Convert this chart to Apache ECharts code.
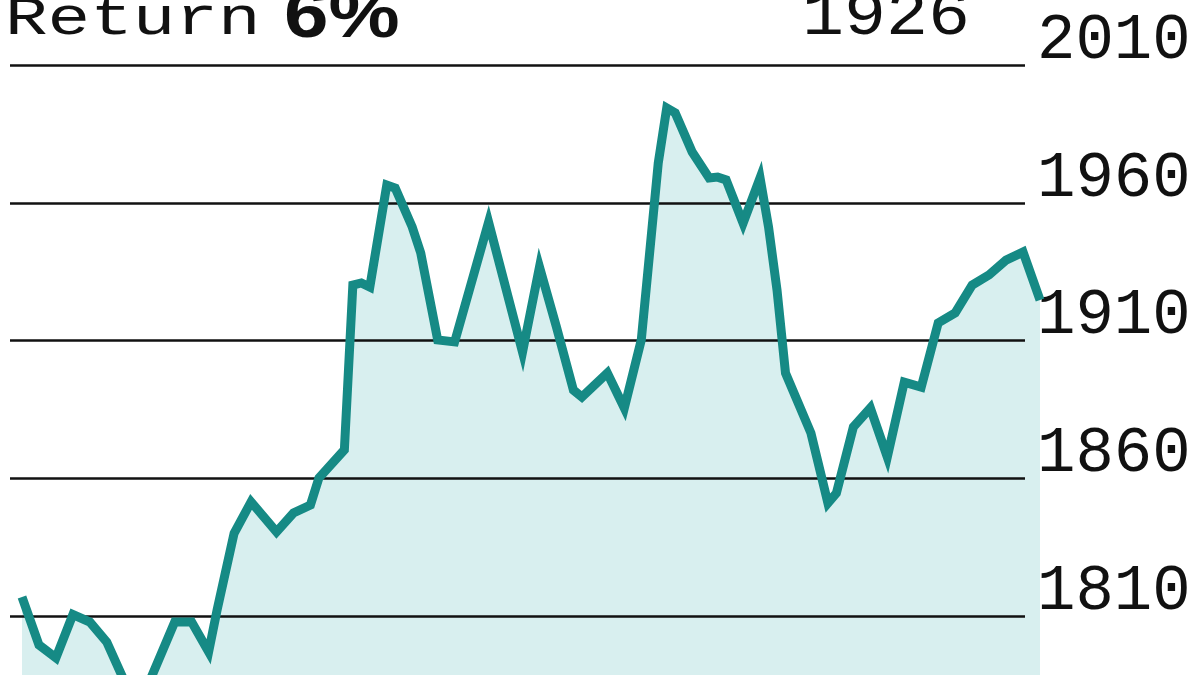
<!DOCTYPE html>
<html>
<head>
<meta charset="utf-8">
<script src="https://cdn.jsdelivr.net/npm/echarts@6/dist/echarts.min.js"></script>
<style>
  html, body { margin: 0; padding: 0; background: #ffffff; }
  #chart { width: 1200px; height: 675px; }
</style>
</head>
<body>
<div id="chart"></div>
<script>
// Data (x = point index, y = level)
const pointIndex = [0,2,4,6,8,10,12,13,15,18,20,22,23,25,27,30,32,34,35,38,39,40,41,43,44,46,47,49,51,55,59,61,63,65,66,69,71,73,75,76,77,79,81,82,83,85,87,88,89,90,93,95,96,98,100,102,104,106,108,110,112,114,116,118,120];
const levels = [1816.9,1799.5,1794.8,1810.5,1807.8,1800.5,1786.8,1780,1786,1807.8,1807.8,1797,1812.2,1840,1851.4,1840.5,1847.4,1850.3,1860.1,1870.3,1930.1,1930.9,1929.4,1966.4,1965.3,1951.2,1941.8,1910.2,1909.5,1953.0,1905.8,1936.7,1914.9,1892.0,1889.5,1898.2,1885.5,1910.2,1974.4,1994.4,1992.6,1978.4,1969.0,1969.3,1968.3,1952.6,1969.0,1951.2,1928.3,1898.2,1876.4,1851.0,1854.6,1878.6,1885.5,1867.7,1894.9,1893.1,1916.4,1920.0,1930.1,1933.8,1939.2,1942.1,1924.7];
const yTicks = [1810, 1860, 1910, 1960, 2010];
const titleLabel = 'Return';
const titleValue = '6%';
const yearLabel = '1926';

const seriesData = pointIndex.map((x, i) => [x, levels[i]]);

const yMin = 1760, yMax = 2010, yStep = 50;
const mono = '"Liberation Mono", "DejaVu Sans Mono", monospace';
const sans = '"Liberation Sans", Arial, sans-serif';

const chart = echarts.init(document.getElementById('chart'), null, { renderer: 'canvas' });
chart.setOption({
  animation: false,
  backgroundColor: '#ffffff',
  graphic: [
    {
      type: 'text', x: 5, y: 34, scaleY: 0.76, silent: true,
      style: { text: titleLabel, fontFamily: mono, fontSize: 71, fontWeight: 'normal', fill: '#111111', verticalAlign: 'bottom', lineHeight: 38 }
    },
    {
      type: 'text', x: 284, y: 42, scaleY: 0.85, silent: true,
      style: { text: titleValue, fontFamily: sans, fontSize: 80, fontWeight: 'bold', fill: '#111111', verticalAlign: 'bottom', lineHeight: 56 }
    },
    {
      type: 'text', x: 802, y: 34, scaleY: 0.9, silent: true,
      style: { text: yearLabel, fontFamily: mono, fontSize: 70, fontWeight: 'normal', fill: '#111111', verticalAlign: 'bottom', lineHeight: 37 }
    }
  ],
  grid: [
    { left: 22, right: 160, top: 65, bottom: -78.75, outerBoundsMode: 'none', containLabel: false },
    { left: 10, right: 175, top: 65, bottom: -78.75, outerBoundsMode: 'none', containLabel: false }
  ],
  xAxis: [
    { type: 'value', gridIndex: 0, min: 0, max: 120, show: false },
    { type: 'value', gridIndex: 1, min: 0, max: 120, show: false }
  ],
  yAxis: [
    { type: 'value', gridIndex: 0, min: yMin, max: yMax, interval: yStep, show: false },
    {
      type: 'value', gridIndex: 1, min: yMin, max: yMax, interval: yStep,
      position: 'right', z: 3,
      axisLine: { show: false },
      axisTick: { show: false },
      splitLine: { show: true, lineStyle: { color: '#111111', width: 2.5 } },
      axisLabel: {
        show: true, margin: 12, fontFamily: mono, fontSize: 64, color: '#111111',
        verticalAlign: 'bottom', lineHeight: 48,
        formatter: v => (yTicks.indexOf(v) >= 0 ? String(v) : '')
      }
    }
  ],
  series: [
    {
      type: 'line', xAxisIndex: 0, yAxisIndex: 0, data: seriesData, z: 2,
      showSymbol: false, silent: true,
      lineStyle: { width: 0, opacity: 0 },
      areaStyle: { color: '#d8efef', opacity: 1 }
    },
    {
      type: 'line', xAxisIndex: 0, yAxisIndex: 0, data: seriesData, z: 5,
      showSymbol: false, silent: true,
      lineStyle: { width: 9, color: '#168a85', join: 'miter' }
    }
  ]
});
</script>
</body>
</html>
